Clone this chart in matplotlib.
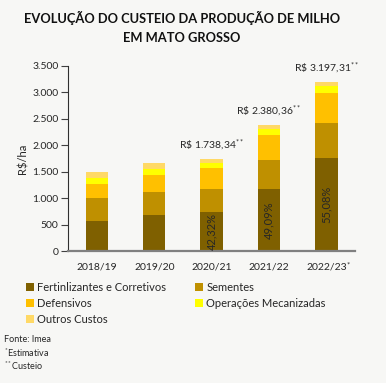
import matplotlib
matplotlib.use("Agg")
import matplotlib.pyplot as plt
from matplotlib.patches import Patch

plt.rcParams['font.family'] = ['Lato', 'DejaVu Sans']
plt.rcParams['mathtext.fontset'] = 'custom'
plt.rcParams['mathtext.rm'] = 'Lato'
plt.rcParams['mathtext.it'] = 'Lato'

categories = ["2018/19", "2019/20", "2020/21", "2021/22", "2022/23"]
fertilizantes = [572, 686, 736, 1168, 1761]
sementes = [423, 428, 441, 557, 663]
defensivos = [276, 322, 397, 466, 566]
operacoes = [114, 113, 94, 114, 127]
outros = [102, 113, 70, 75, 80]
totals_labels = [None, None, "1.738,34", "2.380,36", "3.197,31"]
pct_labels = [None, None, "42,32%", "49,09%", "55,08%"]
series_names = ["Fertinlizantes e Corretivos", "Sementes", "Defensivos",
                "Operações Mecanizadas", "Outros Custos"]
colors = ["#7F6000", "#BF9000", "#FFC000", "#FFFF00", "#FFD966"]
yticks = [0, 500, 1000, 1500, 2000, 2500, 3000, 3500]

bg = "#F7F7F5"
txt = "#262626"
W, H = 386, 383
fig = plt.figure(figsize=(W/100, H/100), dpi=100, facecolor=bg)
ax = fig.add_axes([68.3/W, 1-251/H, (355-68.3)/W, (251-65.7)/H], facecolor=bg)

x = list(range(len(categories)))
series = [fertilizantes, sementes, defensivos, operacoes, outros]
bottom = [0]*len(x)
for vals, c in zip(series, colors):
    ax.bar(x, vals, width=0.39, bottom=bottom, color=c, edgecolor='none')
    bottom = [b+v for b, v in zip(bottom, vals)]

for i in x:
    if totals_labels[i]:
        ax.annotate(r"R\$ " + totals_labels[i] + r"$^{**}$", (i, bottom[i]), xytext=(0, 4),
                    textcoords='offset points', ha='center', va='bottom',
                    fontsize=7.5, color=txt)
    if pct_labels[i]:
        ax.text(i, fertilizantes[i]/2, pct_labels[i], rotation=90, ha='center',
                va='center', fontsize=8, color=txt)

ax.set_xlim(-0.5, 4.5)
ax.set_ylim(0, 3500)
ax.set_yticks(yticks)
ax.set_yticklabels([f"{v:,}".replace(",", ".") for v in yticks], fontsize=7.5, color=txt)
ax.set_xticks(x)
ax.set_xticklabels(categories, fontsize=7.5, color=txt)
ax.annotate("*", (4, 0), xycoords=('data', 'axes fraction'), xytext=(14.5, -10),
            textcoords='offset points', ha='left', va='center', fontsize=5.5, color=txt)
ax.tick_params(axis='x', length=0, pad=8)
ax.tick_params(axis='y', length=5, width=0.8, color='#404040', pad=2)
ax.set_ylabel("R$/ha", fontsize=8, color=txt, labelpad=3)
for s in ['top', 'right']:
    ax.spines[s].set_visible(False)
ax.spines['left'].set_color('#303030')
ax.spines['left'].set_linewidth(0.8)
ax.spines['bottom'].set_color('#808080')
ax.spines['bottom'].set_linewidth(1.6)

fig.text(182/W, 1-18/H, "EVOLUÇÃO DO CUSTEIO DA PRODUÇÃO DE MILHO", ha='center',
         va='center', fontsize=9.3, fontweight='bold', color='#111111')
fig.text(182/W, 1-38/H, "EM MATO GROSSO", ha='center', va='center',
         fontsize=9.3, fontweight='bold', color='#111111')

order = [0, 2, 4, 1, 3]
handles = [Patch(facecolor=colors[k], edgecolor='none') for k in order]
labels = [series_names[k] for k in order]
fig.legend(handles, labels, ncol=2, loc='upper left',
           bbox_to_anchor=(16/W, 1-272/H), frameon=False, fontsize=8,
           handlelength=0.7, handleheight=0.7, handletextpad=0.3,
           columnspacing=2.6, labelspacing=0.45, labelcolor=txt)

fig.text(4/W, 1-340/H, "Fonte: Imea", fontsize=6.5, va='center', color=txt)
fig.text(4/W, 1-353/H, r"$^{*}$Estimativa", fontsize=6.5, va='center', color=txt)
fig.text(4/W, 1-366/H, r"$^{**}$Custeio", fontsize=6.5, va='center', color=txt)

fig.savefig("out.png", dpi=100, facecolor=bg)
